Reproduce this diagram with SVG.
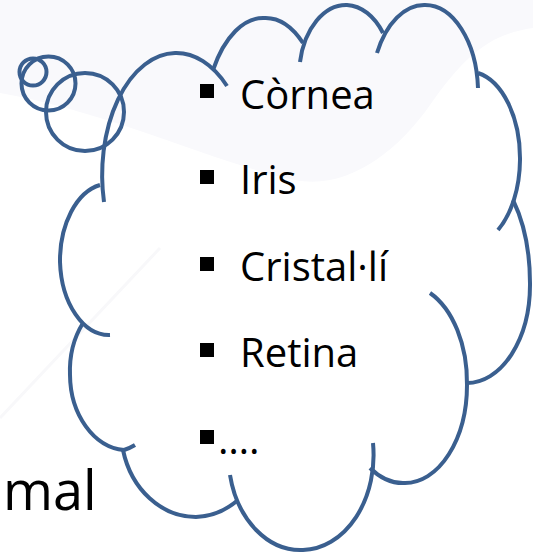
<svg xmlns="http://www.w3.org/2000/svg" width="533" height="555" viewBox="0 0 533 555">
  <style>
    .ln { fill: none; stroke: #3A5F8F; stroke-width: 4; stroke-linecap: butt; }
    .tx { font-family: "Open Sans", "Noto Sans", "Liberation Sans", sans-serif; font-size: 40px; fill: #000; }
    .bl { fill: #000; }
  </style>
  <rect x="0" y="0" width="533" height="555" fill="#ffffff"/>
  <g id="background">
    <path d="M0,0 H533 V28 C490,34 465,55 430,105 C395,155 345,190 295,180 C220,165 110,112 0,93 Z" fill="#f9f9fc"/>
    <path d="M0,418 L160,248" stroke="#f8f8fa" stroke-width="3" fill="none"/>
  </g>
  <g id="thought-bubbles">
    <circle class="ln" cx="33" cy="72" r="13.5"/>
    <circle class="ln" cx="48.5" cy="83.5" r="27"/>
    <circle class="ln" cx="85" cy="112" r="39"/>
  </g>
  <g id="cloud">
    <path class="ln" d="M104,202 A74,122 0 0 1 175,53 A74,122 0 0 1 227,86"/>
    <path class="ln" d="M213,70 A60,115 0 0 1 265,18 A60,115 0 0 1 303,43"/>
    <path class="ln" d="M300,62 A47,70 0 0 1 347,5 A47,70 0 0 1 383,33"/>
    <path class="ln" d="M377,53 A53,88 0 0 1 425,5 A53,88 0 0 1 478,88"/>
    <path class="ln" d="M478,73 A52,87 0 0 1 520,160 A52,87 0 0 1 498,230"/>
    <path class="ln" d="M513,200 A60,120 0 0 1 530,285 A63,98 0 0 1 467,383"/>
    <path class="ln" d="M430,293 A62,98 0 0 1 467,385 A62,98 0 0 1 405,483 A62,98 0 0 1 370,468"/>
    <path class="ln" d="M373,443 A72,95 0 0 1 303,550 A72,95 0 0 1 230,475"/>
    <path class="ln" d="M238,500 A75,88 0 0 1 196,517 A75,88 0 0 1 123,450"/>
    <path class="ln" d="M135,445 A58,76 0 0 1 124,450 A58,76 0 0 1 70,375 A58,76 0 0 1 83,323"/>
    <path class="ln" d="M110,335 A49,77 0 0 1 60,262 A49,77 0 0 1 100,185"/>
  </g>
  <g id="list">
    <rect class="bl" x="200" y="84" width="14" height="14"/>
    <text class="tx" x="240" y="109">Còrnea</text>
    <rect class="bl" x="200" y="170" width="14" height="14"/>
    <text class="tx" x="240" y="194">Iris</text>
    <rect class="bl" x="200" y="257" width="14" height="14"/>
    <text class="tx" x="240" y="281">Cristal·lí</text>
    <rect class="bl" x="200" y="343" width="14" height="14"/>
    <text class="tx" x="240" y="367">Retina</text>
    <rect class="bl" x="200" y="430" width="14" height="14"/>
    <text class="tx" x="218" y="454">….</text>
  </g>
  <g id="side-text">
    <text class="tx" x="3" y="510" style="font-size:54px">mal</text>
  </g>
</svg>
